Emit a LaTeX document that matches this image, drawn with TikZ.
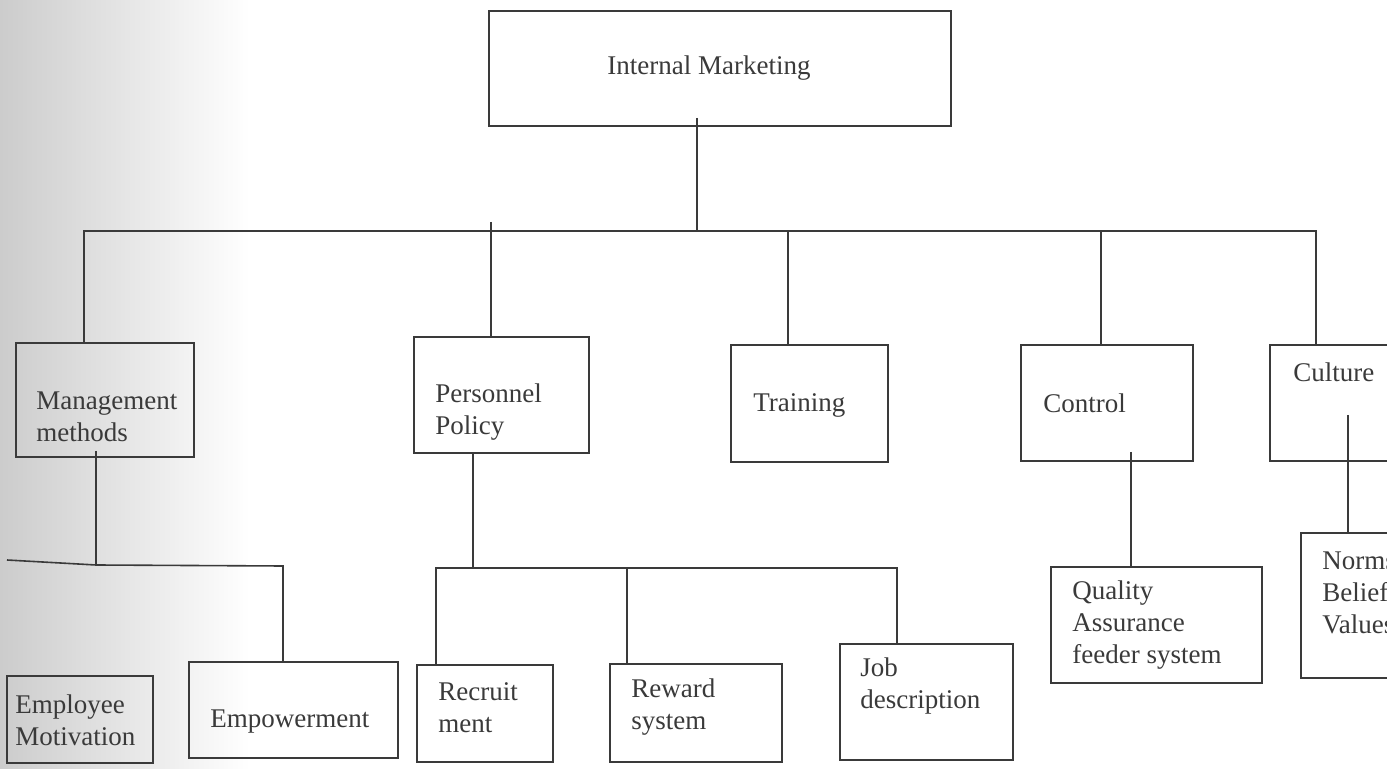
\documentclass[tikz,border=0pt]{standalone}
\usepackage{fontspec}
\setmainfont{Liberation Serif}
\usetikzlibrary{fit}
\definecolor{ink}{HTML}{3A3A3A}
\tikzset{
  box/.style={draw=ink, line width=0.8pt, inner sep=0pt},
  lbl/.style={anchor=west, inner sep=0pt, align=left, text=ink, font=\fontsize{13.5}{16}\selectfont},
  conn/.style={draw=ink, line width=0.8pt},
}
\begin{document}
\begin{tikzpicture}[x=0.5pt,y=-0.5pt]
\useasboundingbox (0,0) rectangle (1387,769);
\clip (0,0) rectangle (1387,769);
\shade[left color=black!20, right color=white] (0,0) rectangle (250,769);

% top
\node[box, fit={(489,11)(951,126)}] (im) {};
\node[lbl] (imT) at (607,68) {Internal Marketing};

% level 1
\node[box, fit={(16,343)(194,457)}] (mm) {};
\node[lbl] (mmT) at (36,417) {Management\\methods};
\node[box, fit={(414,337)(589,453)}] (pp) {};
\node[lbl] (ppT) at (435,412) {Personnel\\Policy};
\node[box, fit={(731,345)(888,462)}] (tr) {};
\node[lbl] (trT) at (753,405) {Training};
\node[box, fit={(1021,345)(1193,461)}] (ct) {};
\node[lbl] (ctT) at (1043,403) {Control};
\node[box, fit={(1270,345)(1420,461)}] (cu) {};
\node[lbl] (cuT) at (1293,372) {Culture};

% level 2
\node[box, fit={(7,676)(153,763)}] (em) {};
\node[lbl] (emT) at (15,720) {Employee\\Motivation};
\node[box, fit={(189,662)(398,758)}] (ep) {};
\node[lbl] (epT) at (210,722) {Empowerment};
\node[box, fit={(417,665)(553,762)}] (rc) {};
\node[lbl] (rcT) at (438,708) {Recruit\\ment};
\node[box, fit={(610,664)(782,762)}] (rw) {};
\node[lbl] (rwT) at (631,707) {Reward\\system};
\node[box, fit={(840,644)(1013,760)}] (jd) {};
\node[lbl] (jdT) at (860,686) {Job\\description};
\node[box, fit={(1051,567)(1262,683)}] (qa) {};
\node[lbl] (qaT) at (1072,625) {Quality\\Assurance\\feeder system};
\node[box, fit={(1301,533)(1430,678)}] (nb) {};
\node[lbl] (nbT) at (1322,593) {Norms\\Beliefs\\Values};

% connectors, top level
\coordinate (j0) at (697,231);
\coordinate (busL) at (84,231);
\coordinate (busR) at (1316,231);
\coordinate (pT) at (491,222);
\coordinate (tT) at (788,231);
\coordinate (cT) at (1101,231);
\draw[conn] ([yshift=4.5pt]im.south -| j0) -- (j0);
\draw[conn] (mm.north -| busL) -- (busL) -- (busR) -- (cu.north -| busR);
\draw[conn] (pT) -- (pp.north -| pT);
\draw[conn] (tT) -- (tr.north -| tT);
\draw[conn] (cT) -- (ct.north -| cT);

% management methods subtree
\coordinate (mJ) at (96,565);
\coordinate (mL) at (7,560);
\coordinate (mR) at (283,566);
\draw[conn] ([yshift=3.5pt]mm.south -| mJ) -- (mJ);
\draw[conn] (mL) -- (mJ) -- (mR) -- (ep.north -| mR);

% personnel policy subtree
\coordinate (pJ) at (473,568);
\coordinate (pL) at (436,568);
\coordinate (pM) at (627,568);
\coordinate (pR) at (897,568);
\draw[conn] (pp.south -| pJ) -- (pJ);
\draw[conn] (rc.north -| pL) -- (pL) -- (pR) -- (jd.north -| pR);
\draw[conn] (pM) -- (rw.north -| pM);

% control and culture subtrees
\coordinate (cS) at (1131,452);
\coordinate (uS) at (1348,415);
\draw[conn] (cS) -- (qa.north -| cS);
\draw[conn] (uS) -- (nb.north -| uS);
\end{tikzpicture}
\end{document}
